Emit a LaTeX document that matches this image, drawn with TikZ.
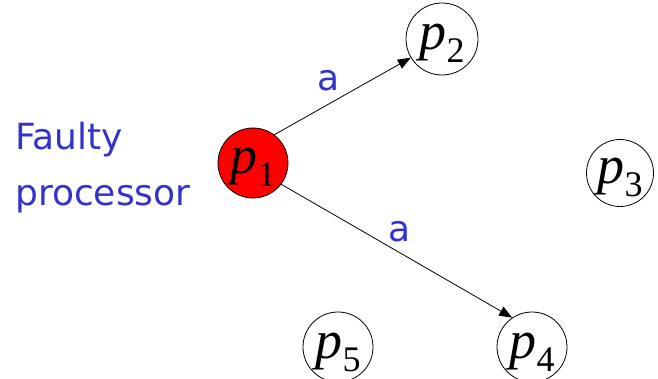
\documentclass[tikz,border=0pt]{standalone}
\usepackage{fontspec}
\setmainfont{Liberation Serif}
\newfontfamily\lblfont{DejaVu Sans}
\usetikzlibrary{arrows.meta}
\definecolor{lblblue}{RGB}{51,51,204}
\newcommand{\proc}[1]{{\fontsize{54}{54}\selectfont\itshape p}\raisebox{-13pt}{\fontsize{36}{36}\selectfont #1}}
\tikzset{
  procnode/.style={circle,draw=black,line width=0.8pt,minimum size=70pt,inner sep=0pt,
    text height=22pt,text depth=0pt},
  faulty/.style={procnode,fill=red},
  msg/.style={draw=black,line width=0.8pt,-{Triangle[length=13pt,width=10pt]}},
  lbl/.style={text=lblblue,font=\lblfont\fontsize{36}{40}\selectfont,inner sep=0pt}
}
\begin{document}
\begin{tikzpicture}[x=1pt,y=-1pt]
\useasboundingbox (0,0) rectangle (658,379);
\node[faulty] (p1) at (253,163) {\proc{1}};
\node[procnode,minimum size=72pt] (p2) at (442,39) {\proc{2}};
\node[procnode,minimum size=67pt] (p3) at (620,173) {\proc{3}};
\node[procnode] (p4) at (532,347) {\proc{4}};
\node[procnode] (p5) at (338,347) {\proc{5}};
\draw[msg] (p1.53) -- (p2.211);
\draw[msg] (p1.-37) -- (p4.124);
\node[lbl] (a1) at (329,81) {a};
\node[lbl] (a2) at (400,232) {a};
\node[lbl,anchor=base west] (fp1) at (15,150) {Faulty};
\node[lbl,anchor=base west] (fp2) at (15,206) {processor};
\end{tikzpicture}
\end{document}
